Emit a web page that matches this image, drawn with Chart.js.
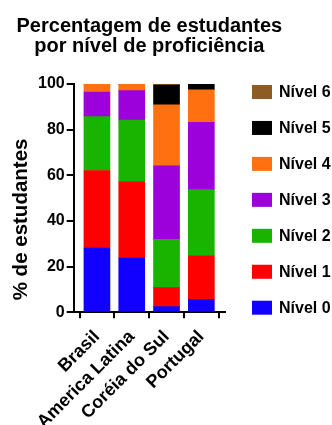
<!DOCTYPE html>
<html>
<head>
<meta charset="utf-8">
<script src="https://cdn.jsdelivr.net/npm/chart.js@4/dist/chart.umd.min.js"></script>
<style>
  html, body { margin: 0; padding: 0; background: #ffffff; }
  canvas { display: block; }
</style>
</head>
<body>
<canvas id="chart" width="332" height="425"></canvas>
<script>
// Países / regiões comparados
const categories = ['Brasil', 'America Latina', 'Coréia do Sul', 'Portugal'];

// Percentagem de estudantes em cada nível (ordem: Brasil, America Latina, Coréia do Sul, Portugal)
const nivel0 = [28.1, 23.8, 2.5, 5.7];
const nivel1 = [34.0, 33.5, 8.3, 19.0];
const nivel2 = [23.6, 26.9, 21.1, 29.0];
const nivel3 = [10.8, 12.9, 32.3, 29.5];
const nivel4 = [3.5, 2.9, 26.7, 14.3];
const nivel5 = [0.0, 0.0, 8.6, 2.5];
const nivel6 = [0.0, 0.0, 0.5, 0.0];

const levelNames = ['Nível 0', 'Nível 1', 'Nível 2', 'Nível 3', 'Nível 4', 'Nível 5', 'Nível 6'];
const levelValues = [nivel0, nivel1, nivel2, nivel3, nivel4, nivel5, nivel6];
const levelColors = ['#1100FF', '#FF0000', '#18B400', '#9C00DB', '#FF7010', '#000000', '#8E5B24'];

const yTicks = [0, 20, 40, 60, 80, 100];
const titleLines = ['Percentagem de estudantes', 'por nível de proficiência'];
const yTitle = '% de estudantes';

const FONT = '"Liberation Sans", Arial, Helvetica, sans-serif';

const datasets = levelValues.map((vals, k) => ({
  label: levelNames[k],
  data: vals.map((v, i) => ({ x: i, y: v })),
  backgroundColor: levelColors[k],
  borderWidth: 0,
  barThickness: 26
}));

// Título de duas linhas centrado sobre a área do gráfico e título do eixo Y
const plotTitles = {
  id: 'plotTitles',
  afterDraw(chart) {
    const ctx = chart.ctx;
    const area = chart.chartArea;
    const cx = (area.left + area.right) / 2;
    ctx.save();
    ctx.fillStyle = '#000000';
    ctx.font = 'bold 20px ' + FONT;
    ctx.textAlign = 'center';
    ctx.textBaseline = 'alphabetic';
    titleLines.forEach((line, i) => ctx.fillText(line, cx, 31.5 + i * 20.5));

    ctx.font = 'bold 20.5px ' + FONT;
    ctx.textAlign = 'left';
    ctx.translate(26.5, area.bottom - 12);
    ctx.rotate(-Math.PI / 2);
    ctx.fillText(yTitle, 0, 0);
    ctx.restore();
  }
};

// Legenda à direita, do nível mais alto para o mais baixo
const sideLegend = {
  id: 'sideLegend',
  afterDraw(chart) {
    const ctx = chart.ctx;
    const x0 = chart.chartArea.right + 27;
    const top0 = chart.chartArea.top + 1;
    const step = 35.95;
    ctx.save();
    ctx.font = 'bold 16px ' + FONT;
    ctx.textBaseline = 'middle';
    ctx.textAlign = 'left';
    const n = chart.data.datasets.length;
    for (let r = 0; r < n; r++) {
      const ds = chart.data.datasets[n - 1 - r];
      const y = top0 + r * step;
      ctx.fillStyle = ds.backgroundColor;
      ctx.fillRect(x0, y, 20, 14);
      ctx.fillStyle = '#000000';
      ctx.fillText(ds.label, x0 + 27, y + 7.5);
    }
    ctx.restore();
  }
};

new Chart(document.getElementById('chart'), {
  type: 'bar',
  data: { datasets },
  plugins: [plotTitles, sideLegend],
  options: {
    responsive: false,
    devicePixelRatio: 1,
    animation: false,
    layout: { padding: { left: 36, right: 107, top: 84, bottom: 0 } },
    plugins: {
      legend: { display: false },
      tooltip: { enabled: false },
      title: { display: false }
    },
    scales: {
      x: {
        type: 'linear',
        stacked: true,
        offset: false,
        min: -0.668,
        max: 3.68,
        afterBuildTicks: (axis) => { axis.ticks = categories.map((_, i) => ({ value: i })); },
        // rótulos inclinados podem ultrapassar a borda inferior
        afterFit: (axis) => { axis.height = 112.7; },
        ticks: {
          color: '#000000',
          font: { family: FONT, size: 18, weight: 'bold' },
          minRotation: 45,
          maxRotation: 45,
          autoSkip: false,
          padding: 8,
          callback: (v) => categories[v] ?? ''
        },
        grid: { drawOnChartArea: false, drawTicks: true, tickLength: 6, color: '#000000', lineWidth: 2 },
        border: { display: true, color: '#000000', width: 2 }
      },
      y: {
        stacked: true,
        min: 0,
        max: 100,
        afterBuildTicks: (axis) => { axis.ticks = yTicks.map((v) => ({ value: v })); },
        ticks: {
          color: '#000000',
          font: { family: FONT, size: 16, weight: 'bold' },
          padding: 2
        },
        grid: { drawOnChartArea: false, drawTicks: true, tickLength: 7, color: '#000000', lineWidth: 2 },
        border: { display: true, color: '#000000', width: 2 }
      }
    }
  }
});
</script>
</body>
</html>
